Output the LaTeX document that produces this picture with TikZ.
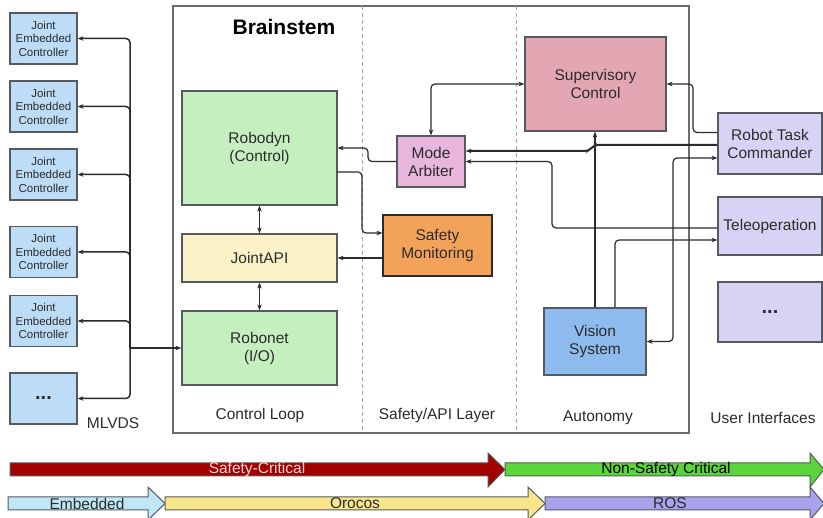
\documentclass[tikz,border=0pt]{standalone}
\usepackage{fontspec}
\setmainfont{Liberation Sans}
\usetikzlibrary{arrows.meta}
\definecolor{ink}{HTML}{2B2B2B}
\definecolor{edge}{HTML}{555A60}
\definecolor{jointfill}{HTML}{BDDCF5}
\definecolor{greenfill}{HTML}{C6EFC0}
\definecolor{yellowfill}{HTML}{FBF1C6}
\definecolor{modefill}{HTML}{E8B6DC}
\definecolor{safefill}{HTML}{F3A25A}
\definecolor{supfill}{HTML}{E3A7B3}
\definecolor{uifill}{HTML}{D8D3F5}
\definecolor{visfill}{HTML}{8EBBEE}
\definecolor{critred}{HTML}{A30000}
\definecolor{noncrit}{HTML}{5AD63A}
\definecolor{embfill}{HTML}{BFE7F5}
\definecolor{orofill}{HTML}{F9E68A}
\definecolor{rosfill}{HTML}{A8A3EC}
\tikzset{
  x=1pt, y=-1pt,
  txt/.style={font=\fontsize{15.5}{18}\selectfont, text=ink, align=center},
  blk/.style={txt, draw=edge, line width=1.2pt, inner sep=0pt, anchor=center},
  joint/.style={draw=edge, line width=1.2pt, fill=jointfill, inner sep=0pt,
    minimum width=67pt, minimum height=51pt, align=center,
    font=\fontsize{11.5}{13.5}\selectfont, text=ink},
  conn/.style={draw=ink, line width=1.2pt, rounded corners=4pt},
  tip/.style={-{Stealth[length=6pt,width=4.5pt]}},
  bitip/.style={{Stealth[length=6pt,width=4.5pt]}-{Stealth[length=6pt,width=4.5pt]}},
  band/.style={draw=edge, line width=1pt},
  bandtxt/.style={font=\fontsize{15.5}{18}\selectfont, text=ink, inner sep=0pt},
  divider/.style={draw=gray!70, line width=1pt, dash pattern=on 4pt off 3pt},
}
\begin{document}
\begin{tikzpicture}
\useasboundingbox (0,0) rectangle (823,518);
\clip (0,0) rectangle (823,518);
\fill[white] (0,0) rectangle (823,518);

% Brainstem frame and layer dividers
\draw[draw=gray!85!black, line width=1.5pt] (173,6) rectangle (689,433);
\draw[divider] (362,6) -- (362,433);
\draw[divider] (516,6) -- (516,433);
\node[font=\fontsize{21}{24}\selectfont\bfseries, text=black] (title) at (284,27) {Brainstem};

% Control loop column
\node[blk, fill=greenfill, minimum width=155pt, minimum height=114pt] (rd) at (259.5,148) {Robodyn\\(Control)};
\node[blk, fill=yellowfill, minimum width=155pt, minimum height=48pt] (ja) at (259.5,258) {JointAPI};
\node[blk, fill=greenfill, minimum width=155pt, minimum height=74pt] (rn) at (259.5,348) {Robonet\\(I/O)};

% Safety/API layer
\node[blk, fill=modefill, minimum width=68pt, minimum height=51pt] (ma) at (431,161.5) {Mode\\Arbiter};
\node[blk, draw=ink, fill=safefill, minimum width=109pt, minimum height=61pt] (sm) at (437.5,245.5) {Safety\\Monitoring};

% Autonomy
\node[blk, fill=supfill, minimum width=141pt, minimum height=94pt] (sc) at (595.5,84) {Supervisory\\Control};
\node[blk, fill=visfill, minimum width=102pt, minimum height=67pt] (vs) at (595,341.5) {Vision\\System};

% User interfaces
\node[blk, fill=uifill, minimum width=104pt, minimum height=61pt] (rtc) at (770,143.5) {Robot Task\\Commander};
\node[blk, fill=uifill, minimum width=104pt, minimum height=58pt] (tel) at (770,226) {Teleoperation};
\node[blk, fill=uifill, minimum width=104pt, minimum height=60pt, font=\fontsize{20}{20}\selectfont\bfseries] (uimore) at (770,312) {...};

% Joint controllers
\node[joint] (j1) at (43.5,38.5) {Joint\\Embedded\\Controller};
\node[joint] (j2) at (43.5,106.5) {Joint\\Embedded\\Controller};
\node[joint] (j3) at (43.5,174.5) {Joint\\Embedded\\Controller};
\node[joint] (j4) at (43.5,252) {Joint\\Embedded\\Controller};
\node[joint] (j5) at (43.5,321) {Joint\\Embedded\\Controller};
\node[joint, font=\fontsize{20}{20}\selectfont\bfseries] (j6) at (43.5,398.5) {...};

% Column labels
\node[txt] (lmlvds) at (113,423) {MLVDS};
\node[txt] (lcl) at (260,415) {Control Loop};
\node[txt] (lsafe) at (437,415) {Safety/API Layer};
\node[txt] (lauto) at (598,418) {Autonomy};
\node[txt] (lui) at (763,418) {User Interfaces};

% MLVDS bus
\coordinate (hub) at (130,348);
\foreach \j in {j1,j2,j3,j4,j5,j6}{
  \draw[conn, line width=1.5pt, tip] (hub) |- (\j.east);
}
\draw[conn, line width=1.8pt, tip] (hub) -- (rn.west);

% Control loop links
\draw[conn, bitip] (rd.south) -- (ja.north);
\draw[conn, bitip] (ja.south) -- (rn.north);

% Safety/API links
\draw[conn, tip] (ma.west) -- (368,161.5) -- (368,148) -- (rd.east);
\draw[conn, tip] ([yshift=-24]rd.east) -- (362,172) -- (362,233) -- ([yshift=12.5]sm.west);
\draw[conn, tip] (sm.west |- ja.east) -- (ja.east);
\draw[conn, bitip] (ma.north) |- (sc.west);

% Autonomy and user interface links
\draw[conn, tip] ([yshift=11]rtc.west) -- (693,132.5) -- (693,84) -- (sc.east);
\draw[conn, line width=2pt, tip] ([yshift=-1.5]rtc.west) -- (594,145) -- (589,151) -- ([yshift=10.5]ma.east);
\draw[conn, tip] ([yshift=-2]tel.west) -- (552,228) -- (552,161.5) -- (ma.east);
\draw[conn, tip] (vs.north) -- (vs.north |- sc.south);
\draw[conn, tip] ([xshift=20]vs.north) |- ([yshift=-14]tel.west);
\draw[conn, bitip] (vs.east) -- (673,341.5) -- (673,158) -- ([yshift=-14.5]rtc.west);

% Bottom classification bands
\draw[band, fill=critred] (10,463) -- (488,463) -- (488,453) -- (505,469.5) -- (488,487) -- (488,476) -- (10,476) -- cycle;
\draw[band, fill=noncrit] (505,463) -- (810,463) -- (810,453) -- (824,469.5) -- (810,487) -- (810,476) -- (505,476) -- cycle;
\draw[band, fill=embfill] (8,497) -- (148,497) -- (148,487) -- (165,503.5) -- (148,520) -- (148,510) -- (8,510) -- cycle;
\draw[band, fill=orofill] (165,497) -- (528,497) -- (528,487) -- (545,503.5) -- (528,520) -- (528,510) -- (165,510) -- cycle;
\draw[band, fill=rosfill] (545,497) -- (810,497) -- (810,487) -- (824,503.5) -- (810,520) -- (810,510) -- (545,510) -- cycle;
\node[bandtxt, text=red!15] (tcrit) at (257,469.5) {Safety-Critical};
\node[bandtxt, text=black] (tnon) at (666,469.5) {Non-Safety Critical};
\node[bandtxt] (temb) at (87,503.5) {Embedded};
\node[bandtxt] (toro) at (355,503.5) {Orocos};
\node[bandtxt] (tros) at (670,503.5) {ROS};
\end{tikzpicture}
\end{document}
